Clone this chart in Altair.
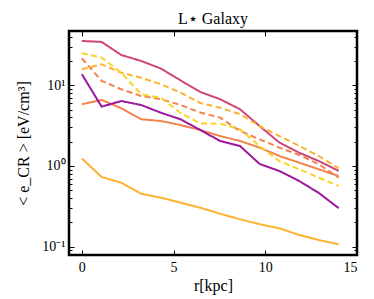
import altair as alt
import pandas as pd

# radial positions [kpc]
r = [0.0, 1.08, 2.15, 3.23, 4.31, 5.38, 6.46, 7.54, 8.62, 9.69, 10.77, 11.85, 12.92, 14.0]

# <e_CR> profiles [eV/cm^3]
amber_solid = [1.24, 0.731, 0.621, 0.454, 0.405, 0.351, 0.304, 0.256, 0.219, 0.190, 0.169, 0.140, 0.121, 0.107]
salmon_solid = [5.82, 6.58, 5.19, 3.79, 3.61, 3.22, 2.79, 2.35, 2.04, 1.69, 1.33, 1.10, 0.91, 0.752]
purple_solid = [13.7, 5.43, 6.38, 5.70, 4.57, 3.79, 2.79, 2.04, 1.77, 1.06, 0.867, 0.652, 0.463, 0.301]
magenta_solid = [35.4, 34.4, 23.7, 20.0, 16.1, 11.5, 8.26, 6.71, 5.05, 3.13, 1.95, 1.46, 1.15, 0.87]
salmon_dashed = [21.6, 11.3, 8.92, 7.36, 6.71, 5.70, 4.60, 3.97, 2.72, 2.14, 1.69, 1.37, 1.05, 0.716]
amber_dashed = [15.8, 18.2, 14.3, 12.4, 10.3, 8.09, 6.04, 5.27, 4.38, 3.13, 2.35, 1.77, 1.33, 0.935]
gold_dashed = [24.9, 22.0, 14.3, 7.73, 7.01, 4.54, 3.37, 3.34, 2.85, 1.77, 1.15, 0.91, 0.716, 0.565]

series_names = ["a_amber", "b_salmon", "c_purple", "d_magenta", "e_salmon_d", "f_amber_d", "g_gold_d"]
series_values = [amber_solid, salmon_solid, purple_solid, magenta_solid, salmon_dashed, amber_dashed, gold_dashed]
series_styles = ["solid", "solid", "solid", "solid", "dashed", "dashed", "dashed"]
series_colors = ["#fdb22f", "#f2844b", "#9c179e", "#cc4778", "#f2844b", "#fdb22f", "#fcd225"]

y_major = [0.1, 1, 10]
y_minor = [0.09, 0.2, 0.3, 0.4, 0.5, 0.6, 0.7, 0.8, 0.9, 2, 3, 4, 5, 6, 7, 8, 9, 20, 30, 40]
x_ticks = [0, 5, 10, 15]

rows = []
for name, vals, style in zip(series_names, series_values, series_styles):
    for rr, v in zip(r, vals):
        rows.append({"series": name, "r": rr, "value": v, "style": style})
df = pd.DataFrame(rows)

FONT = "Liberation Serif"
x_scale = alt.Scale(domain=[-0.7, 15], nice=False, zero=False)
y_scale = alt.Scale(type="log", domain=[0.079, 47], nice=False)
color = alt.Color("series:N", scale=alt.Scale(domain=series_names, range=series_colors), legend=None)
dash = alt.StrokeDash("style:N", scale=alt.Scale(domain=["solid", "dashed"], range=[[1, 0], [6, 3.5]]), legend=None)

def layer(x_axis, y_axis, visible):
    return alt.Chart(df).mark_line(strokeWidth=2, opacity=1 if visible else 0, clip=True).encode(
        x=alt.X("r:Q", scale=x_scale, axis=x_axis),
        y=alt.Y("value:Q", scale=y_scale, axis=y_axis),
        color=color,
        strokeDash=dash,
        detail="series:N",
    )

common = dict(domain=False, grid=False, tickColor="black", tickWidth=1)

l1 = layer(
    alt.Axis(orient="bottom", values=x_ticks, tickSize=5, offset=-5, title="r[kpc]", labelPadding=5, titlePadding=3, **common),
    alt.Axis(orient="left", values=y_major, tickSize=5, offset=-5, labelPadding=4, titlePadding=10,
             labelExpr="datum.value > 5 ? '10¹' : datum.value > 0.5 ? '10⁰' : '10⁻¹'",
             title="< e_CR > [eV/cm³]", **common),
    True,
)
l2 = layer(
    alt.Axis(orient="top", values=x_ticks, tickSize=5, offset=-5, labels=False, title=None, **common),
    alt.Axis(orient="left", values=y_minor, tickSize=3, offset=-3, labels=False, title=None, **common),
    False,
)
l3 = layer(
    None,
    alt.Axis(orient="right", values=y_major, tickSize=5, offset=-5, labels=False, title=None, **common),
    False,
)
l4 = layer(
    None,
    alt.Axis(orient="right", values=y_minor, tickSize=3, offset=-3, labels=False, title=None, **common),
    False,
)

chart = alt.layer(l1, l2, l3, l4).resolve_axis(x="independent", y="independent").properties(
    width=288, height=224,
    padding={"left": 7, "top": 2, "right": 5, "bottom": 5},
    title=alt.TitleParams("L⋆ Galaxy", font=FONT, fontSize=16, fontWeight="normal", color="black", offset=4),
).configure_view(stroke="black", strokeWidth=2.5).configure_axis(
    labelFont=FONT, titleFont=FONT, labelFontSize=14, titleFontSize=16,
    titleFontWeight="normal", labelColor="black", titleColor="black",
)

chart.save("out.html", embed_options={"renderer": "svg", "actions": False})
